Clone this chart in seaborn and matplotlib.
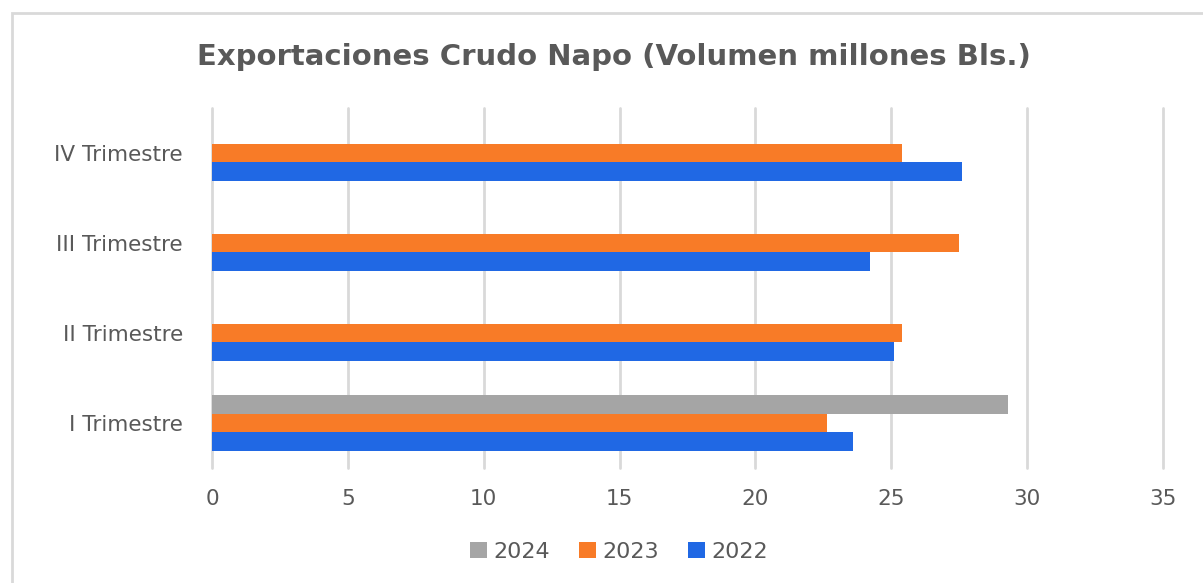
import matplotlib
matplotlib.use('Agg')
import matplotlib.pyplot as plt
import seaborn as sns
import pandas as pd
import numpy as np
from matplotlib.patches import Rectangle

# data
trimestres = ["I Trimestre", "II Trimestre", "III Trimestre", "IV Trimestre"]
vol_2022 = [23.6, 25.1, 24.2, 27.6]
vol_2023 = [22.65, 25.4, 27.5, 25.4]
vol_2024 = [29.3, np.nan, np.nan, np.nan]
years = ["2024", "2023", "2022"]
colors = {"2024": "#A5A5A5", "2023": "#F87B27", "2022": "#2068E4"}

df = pd.DataFrame({
    "trimestre": trimestres * 3,
    "year": ["2022"] * 4 + ["2023"] * 4 + ["2024"] * 4,
    "vol": vol_2022 + vol_2023 + vol_2024,
})

sns.set_theme(style="white")
plt.rcParams['font.family'] = ['DejaVu Sans']
text_col = "#595959"

fig = plt.figure(figsize=(12.03, 5.83), dpi=100)
ax = fig.add_axes([212 / 1203, 1 - 468 / 583, (1163 - 212) / 1203, 360 / 583])

sns.barplot(data=df, y="trimestre", x="vol", hue="year",
            order=trimestres[::-1], hue_order=years, palette=colors,
            orient="h", width=0.633, saturation=1, errorbar=None, ax=ax,
            linewidth=0)

ax.set_xlim(0, 35)
ax.set_ylim(3.5, -0.5)
ax.set_xticks(range(0, 36, 5))
ax.xaxis.grid(True, color="#D9D9D9", linewidth=2)
for gl in ax.get_xgridlines():
    gl.set_clip_on(False)
ax.set_axisbelow(True)
for s in ax.spines.values():
    s.set_visible(False)
ax.set_xlabel("")
ax.set_ylabel("")
ax.tick_params(axis="x", colors=text_col, labelsize=15.5, pad=15, length=0)
ax.tick_params(axis="y", colors=text_col, labelsize=15.5, pad=21, length=0)

leg = ax.legend(loc="center", bbox_to_anchor=(619 / 1203, 1 - 552 / 583),
                bbox_transform=fig.transFigure, ncol=3, frameon=False,
                fontsize=16, handlelength=0.75, handleheight=0.75,
                handletextpad=0.3, columnspacing=1.3, labelcolor=text_col)

fig.text(614 / 1203, 1 - 57 / 583, "Exportaciones Crudo Napo (Volumen millones Bls.)",
         ha="center", va="center", fontsize=21, fontweight="bold", color=text_col)

# chart frame
fig.patches.append(Rectangle((12 / 1203, -0.5), 2, 1 - 13 / 583 + 0.5,
                             transform=fig.transFigure, fill=False,
                             edgecolor="#D9D9D9", linewidth=2))

fig.savefig("out.png", dpi=100)
